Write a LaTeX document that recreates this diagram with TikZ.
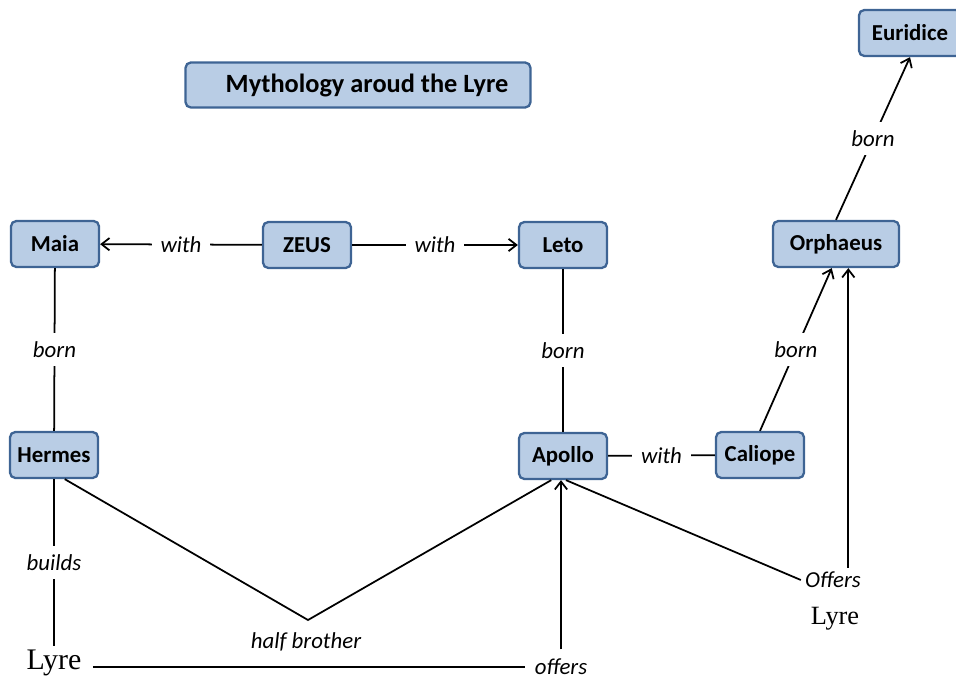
\documentclass[tikz,border=0pt]{standalone}
\usepackage{fontspec}
\setmainfont{Carlito}
\newfontfamily\lyrefont{Liberation Serif}
\usetikzlibrary{arrows.meta}
\definecolor{boxfill}{RGB}{185,205,229}
\definecolor{boxline}{RGB}{62,100,148}

\begin{document}
\begin{tikzpicture}[
  x=0.02cm,y=-0.02cm,
  box/.style={draw=boxline,fill=boxfill,line width=1.3pt,rounded corners=3pt,minimum width=1.76cm,minimum height=0.92cm,inner sep=0pt,font=\fontsize{13}{15}\selectfont\bfseries},
  lbl/.style={fill=white,inner sep=5pt,font=\fontsize{13}{15}\selectfont\itshape},
  lyre/.style={inner sep=2pt,font=\lyrefont\fontsize{17}{20}\selectfont},
  line width=1pt,>={Straight Barb[length=4.5pt,width=7pt]}]
  \useasboundingbox (0,0) rectangle (956,682);
  % title
  \node[box,minimum width=6.9cm,minimum height=0.9cm] (title) at (358,85){\hspace{0.36cm}\fontsize{15}{18}\selectfont Mythology aroud the Lyre};
  % people
  \node[box] (maia) at (55,244){Maia};
  \node[box] (zeus) at (307,245){ZEUS};
  \node[box] (leto) at (563,245){Leto};
  \node[box,minimum width=2.52cm] (orph) at (836,244){Orphaeus};
  \node[box,minimum width=2.04cm] (euri) at (910,33){Euridice};
  \node[box] (herm) at (54,455){Hermes};
  \node[box] (apol) at (563,456){Apollo};
  \node[box] (cali) at (760,455){Caliope};
  % the lyre
  \node[lyre] (lyreA) at (54,663){Lyre};
  \node[lbl] (offA) at (561,667){offers};
  \node[lbl,inner sep=2pt] (offB) at (833,580){Offers};
  \node[lyre,font=\lyrefont\fontsize{15}{18}\selectfont] (lyreB) at (835,619){Lyre};
  \node[lbl] (hbro) at (306,642){half brother};
  \coordinate (hb) at (308,620);
  % links
  \draw[->] (zeus) -- node[lbl]{with} (maia);
  \draw[->] (zeus) -- node[lbl]{with} (leto);
  \draw (maia) -- node[lbl]{born} (herm);
  \draw (leto) -- node[lbl]{born} (apol);
  \draw (apol) -- node[lbl]{with} (cali);
  \draw[->] (cali.north) -- node[lbl]{born} (orph.-100);
  \draw[->] (orph.north) -- node[lbl]{born} (euri.south);
  \draw (herm) -- node[lbl]{builds} (lyreA);
  \draw (herm.-66) -- (hb) -- (apol.-116);
  \draw ([xshift=4pt]lyreA.east |- offA.west) -- (offA.west);
  \draw[->] (offA) -- (offA |- apol.south);
  \draw (apol.-83) -- (offB.west);
  \draw[->] (offB.north -| orph.-63) -- (orph.-63);
\end{tikzpicture}
\end{document}
